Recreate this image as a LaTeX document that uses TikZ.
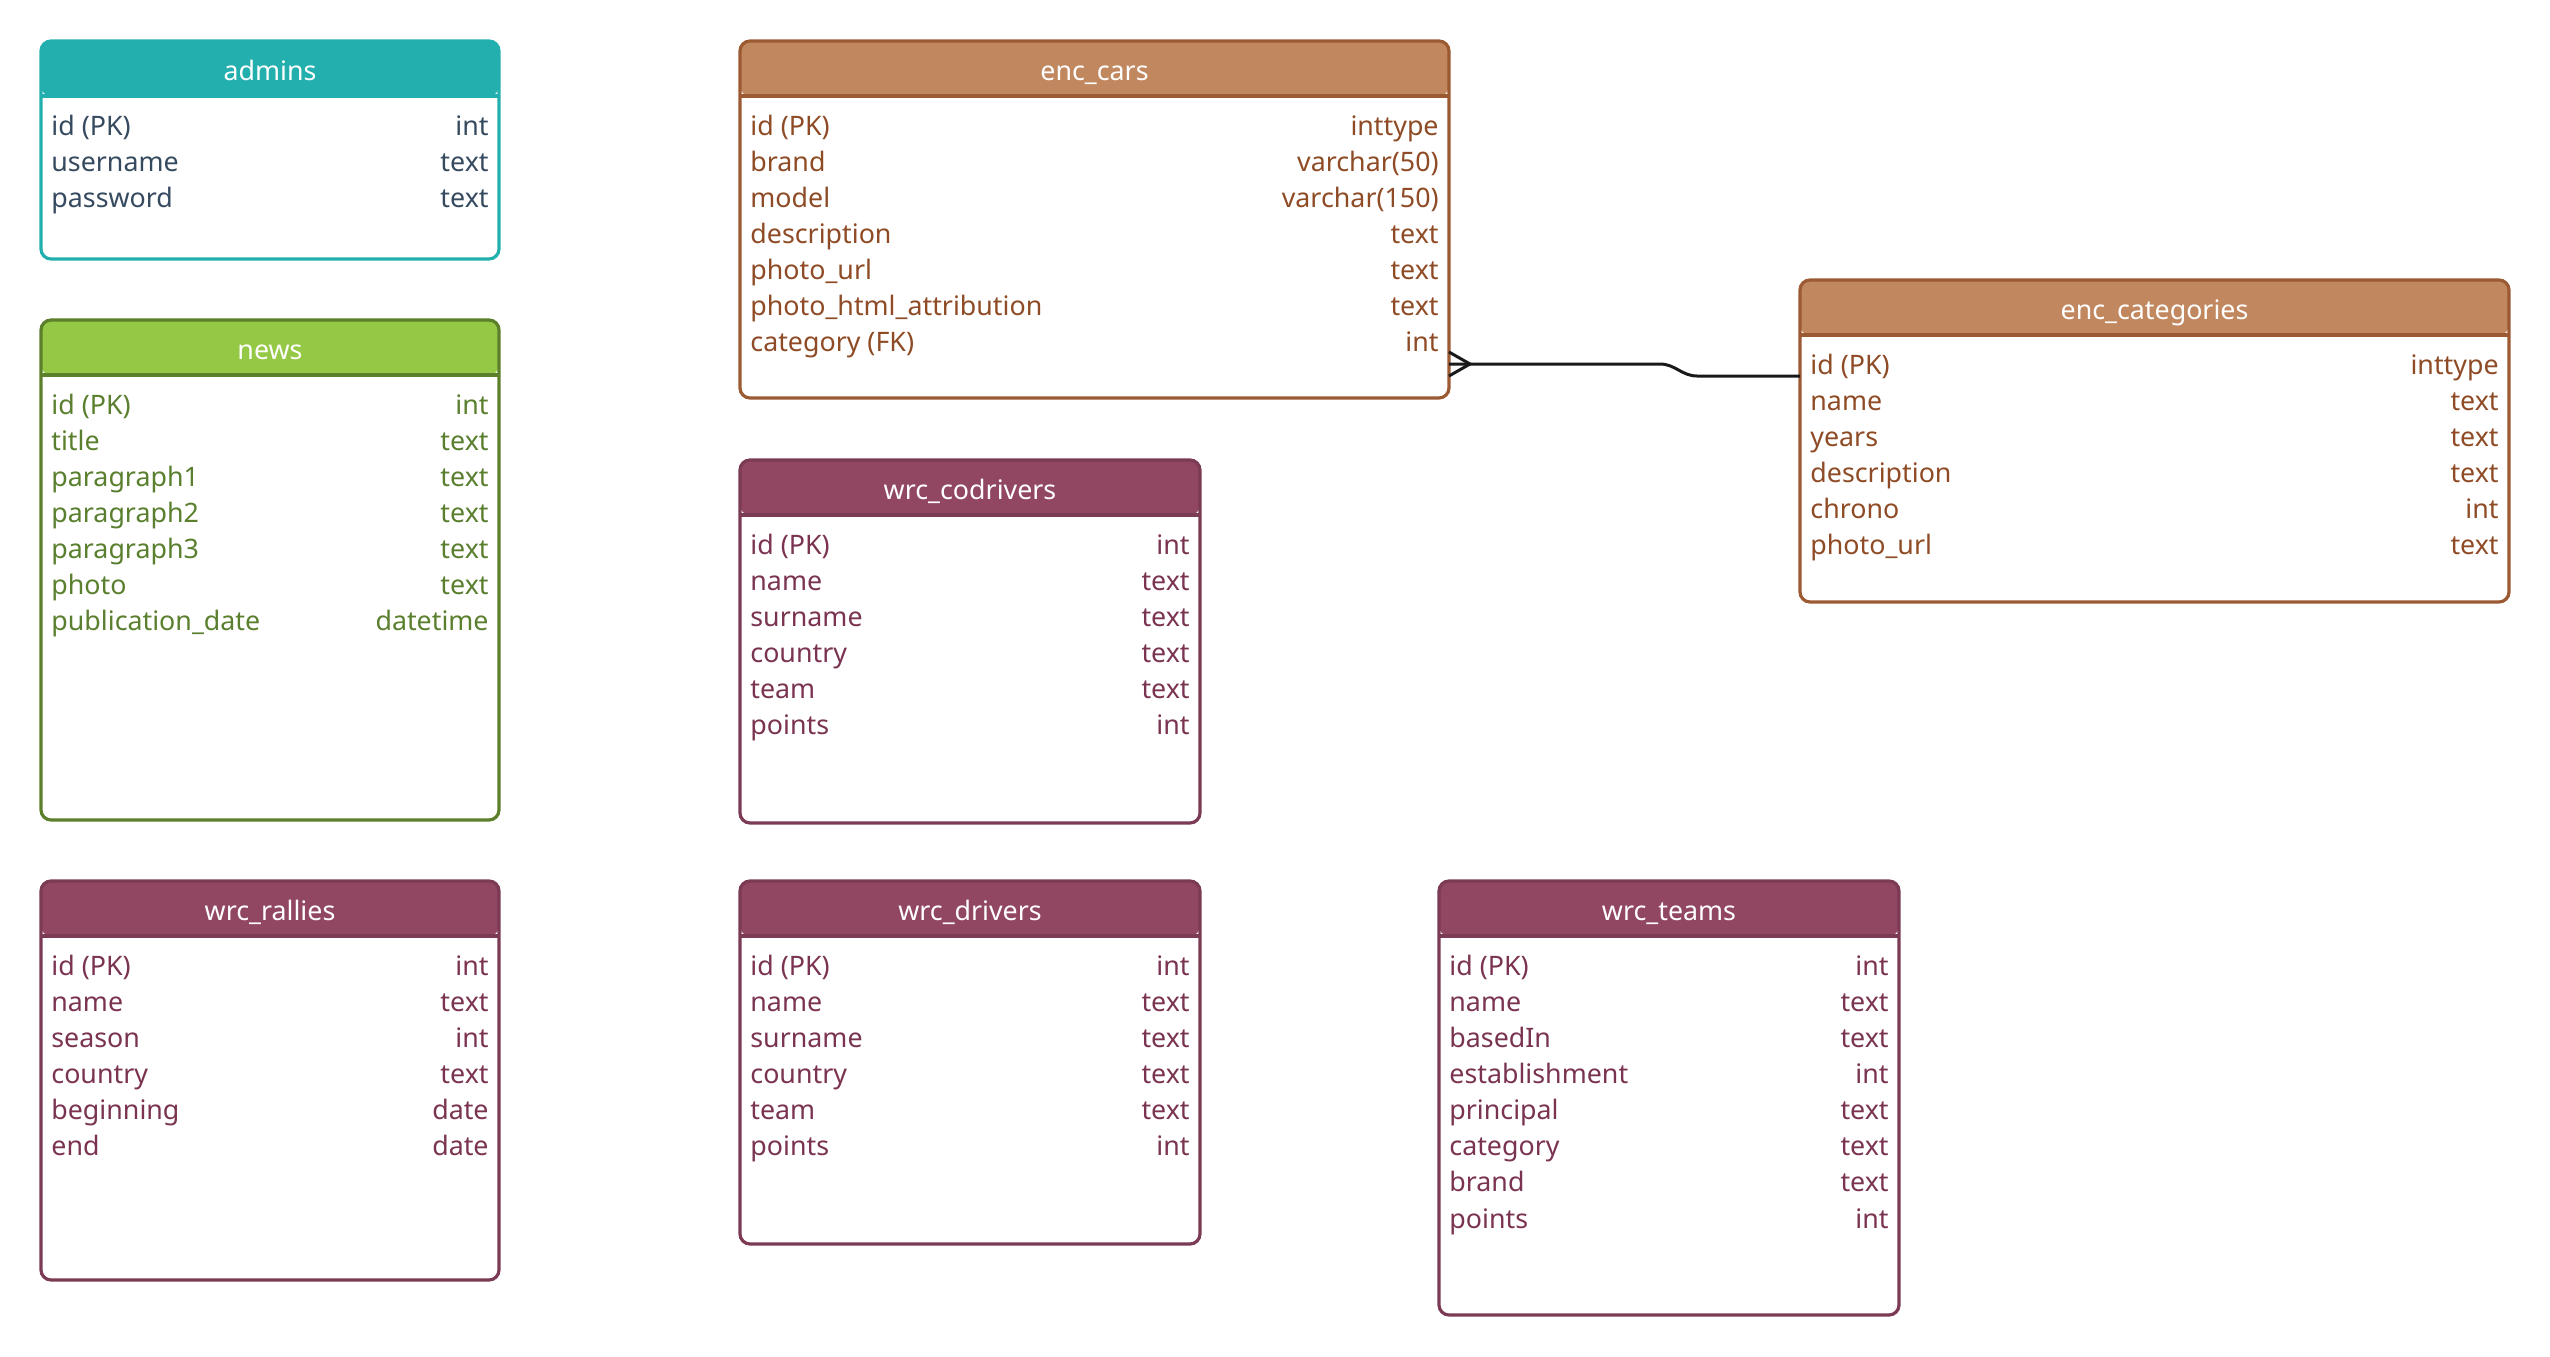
\documentclass[tikz,border=0pt]{standalone}
\usepackage{fontspec}
\setmainfont{Noto Sans}
\usepackage{tikz}
\usetikzlibrary{calc}

\definecolor{admhead}{HTML}{23AFAD}
\definecolor{admborder}{HTML}{23AFAD}
\definecolor{admtext}{HTML}{364A5F}
\definecolor{newshead}{HTML}{94C845}
\definecolor{newsborder}{HTML}{5B7F2A}
\definecolor{newstext}{HTML}{5A7F2E}
\definecolor{enchead}{HTML}{C1875F}
\definecolor{encborder}{HTML}{9C5A33}
\definecolor{enctext}{HTML}{8E4B25}
\definecolor{wrchead}{HTML}{914662}
\definecolor{wrcborder}{HTML}{7B3B55}
\definecolor{wrctext}{HTML}{7A3350}

\tikzset{
	tbl/.style n args={3}{draw=#1border, fill=white, rounded corners=5pt, line width=1.6pt,
		inner sep=0pt, outer sep=0pt, anchor=north west,
		minimum width=#2*0.5pt, minimum height=#3*0.5pt,
		path picture={
			\fill[#1head] (path picture bounding box.north west) rectangle ([yshift=-27.5pt]path picture bounding box.north east);
			\draw[#1border, line width=1.8pt] ([yshift=-27.5pt]path picture bounding box.north west) -- ([yshift=-27.5pt]path picture bounding box.north east);
		}},
	ttl/.style={text=white, anchor=mid, inner sep=0pt, font=\fontsize{13.4}{16}\selectfont},
	fld/.style={anchor=mid west, inner sep=0pt, font=\fontsize{13.4}{16}\selectfont},
	typ/.style={anchor=mid east, inner sep=0pt, font=\fontsize{13.4}{16}\selectfont},
	rel/.style={line width=1.5pt, black!90},
}

\begin{document}
\begin{tikzpicture}[x=0.5pt,y=-0.5pt]
			\useasboundingbox (0,0) rectangle (2550,1356);
			
			% admins
			\node[tbl={adm}{458}{218}] (admins) at (41,41) {};
			\node[ttl] (admins-h) at ($(admins.north)+(0,34)$) {admins};
			\foreach \fld/\typ [count=\i] in {id (PK)/int, username/text, password/text}{
				\node[fld,text=admtext] (admins-f\i) at ($(admins.north west)+(10,{89+36.1*(\i-1)})$) {\fld};
				\node[typ,text=admtext] (admins-t\i) at ($(admins.north east)+(-10,{89+36.1*(\i-1)})$) {\typ};
			}
			
			% news
			\node[tbl={news}{458}{500}] (news) at (41,320) {};
			\node[ttl] (news-h) at ($(news.north)+(0,34)$) {news};
			\foreach \fld/\typ [count=\i] in {id (PK)/int, title/text, paragraph1/text, paragraph2/text, paragraph3/text, photo/text, publication\_date/datetime}{
				\node[fld,text=newstext] (news-f\i) at ($(news.north west)+(10,{89+36.1*(\i-1)})$) {\fld};
				\node[typ,text=newstext] (news-t\i) at ($(news.north east)+(-10,{89+36.1*(\i-1)})$) {\typ};
			}
			
			% wrc_rallies
			\node[tbl={wrc}{458}{399}] (rallies) at (41,881) {};
			\node[ttl] (rallies-h) at ($(rallies.north)+(0,34)$) {wrc\_rallies};
			\foreach \fld/\typ [count=\i] in {id (PK)/int, name/text, season/int, country/text, beginning/date, end/date}{
				\node[fld,text=wrctext] (rallies-f\i) at ($(rallies.north west)+(10,{89+36.1*(\i-1)})$) {\fld};
				\node[typ,text=wrctext] (rallies-t\i) at ($(rallies.north east)+(-10,{89+36.1*(\i-1)})$) {\typ};
			}
			
			% enc_cars
			\node[tbl={enc}{709}{357}] (cars) at (740,41) {};
			\node[ttl] (cars-h) at ($(cars.north)+(0,34)$) {enc\_cars};
			\foreach \fld/\typ [count=\i] in {id (PK)/inttype, brand/varchar(50), model/varchar(150), description/text, photo\_url/text, photo\_html\_attribution/text, category (FK)/int}{
				\node[fld,text=enctext] (cars-f\i) at ($(cars.north west)+(10,{89+36.1*(\i-1)})$) {\fld};
				\node[typ,text=enctext] (cars-t\i) at ($(cars.north east)+(-10,{89+36.1*(\i-1)})$) {\typ};
			}
			
			% wrc_codrivers
			\node[tbl={wrc}{460}{363}] (codrivers) at (740,460) {};
			\node[ttl] (codrivers-h) at ($(codrivers.north)+(0,34)$) {wrc\_codrivers};
			\foreach \fld/\typ [count=\i] in {id (PK)/int, name/text, surname/text, country/text, team/text, points/int}{
				\node[fld,text=wrctext] (codrivers-f\i) at ($(codrivers.north west)+(10,{89+36.1*(\i-1)})$) {\fld};
				\node[typ,text=wrctext] (codrivers-t\i) at ($(codrivers.north east)+(-10,{89+36.1*(\i-1)})$) {\typ};
			}
			
			% wrc_drivers
			\node[tbl={wrc}{460}{363}] (drivers) at (740,881) {};
			\node[ttl] (drivers-h) at ($(drivers.north)+(0,34)$) {wrc\_drivers};
			\foreach \fld/\typ [count=\i] in {id (PK)/int, name/text, surname/text, country/text, team/text, points/int}{
				\node[fld,text=wrctext] (drivers-f\i) at ($(drivers.north west)+(10,{89+36.1*(\i-1)})$) {\fld};
				\node[typ,text=wrctext] (drivers-t\i) at ($(drivers.north east)+(-10,{89+36.1*(\i-1)})$) {\typ};
			}
			
			% wrc_teams
			\node[tbl={wrc}{460}{434}] (teams) at (1439,881) {};
			\node[ttl] (teams-h) at ($(teams.north)+(0,34)$) {wrc\_teams};
			\foreach \fld/\typ [count=\i] in {id (PK)/int, name/text, basedIn/text, establishment/int, principal/text, category/text, brand/text, points/int}{
				\node[fld,text=wrctext] (teams-f\i) at ($(teams.north west)+(10,{89+36.1*(\i-1)})$) {\fld};
				\node[typ,text=wrctext] (teams-t\i) at ($(teams.north east)+(-10,{89+36.1*(\i-1)})$) {\typ};
			}
			
			% enc_categories
			\node[tbl={enc}{709}{322}] (cats) at (1800,280) {};
			\node[ttl] (cats-h) at ($(cats.north)+(0,34)$) {enc\_categories};
			\foreach \fld/\typ [count=\i] in {id (PK)/inttype, name/text, years/text, description/text, chrono/int, photo\_url/text}{
				\node[fld,text=enctext] (cats-f\i) at ($(cats.north west)+(10,{89+36.1*(\i-1)})$) {\fld};
				\node[typ,text=enctext] (cats-t\i) at ($(cats.north east)+(-10,{89+36.1*(\i-1)})$) {\typ};
			}
			
			% cars -> categories
			\coordinate (fk) at ($(cars.north east)+(0,323)$);
			\coordinate (pk) at ($(cats.north west)+(0,96)$);
			\coordinate (bend1) at ($(fk)+(211,0)$);
			\coordinate (bend2) at ($(pk)+(-103,0)$);
			\draw[rel] (fk) -- (bend1) to[out=0,in=180] (bend2) -- (pk);
			\draw[rel] ($(fk)+(0,-12)$) -- ($(fk)+(21,0)$) -- ($(fk)+(0,12)$);
		\end{tikzpicture}
\end{document}
